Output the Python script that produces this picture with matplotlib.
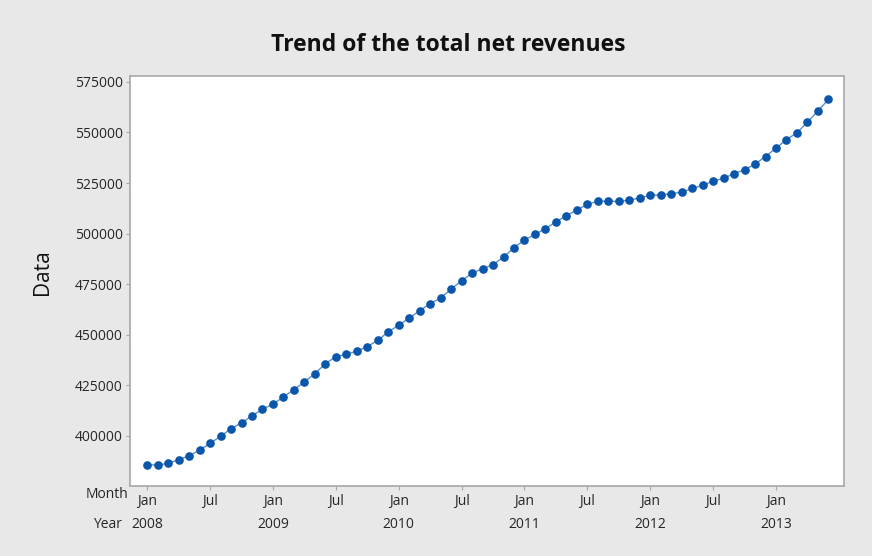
import matplotlib
matplotlib.use("Agg")
import matplotlib.pyplot as plt
import matplotlib.transforms as mtransforms

plt.rcParams['font.family'] = ['Open Sans', 'DejaVu Sans']

# monthly total net revenues, Jan 2008 .. Jun 2013
revenues = [385700, 385700, 386400, 388300, 390200, 393000, 396400, 399800, 403600, 406500,
            409900, 413300, 415700, 419300, 422900, 426700, 430800, 435700, 439200, 440400,
            441900, 444200, 447200, 451500, 454700, 458300, 461900, 465400, 468200, 472600,
            476700, 480500, 482600, 484700, 488300, 493100, 496800, 499600, 502400, 505800,
            508800, 511700, 514500, 516000, 516000, 515900, 516500, 517600, 519000, 519000,
            519800, 520400, 522300, 523900, 525900, 527300, 529600, 531600, 534300, 538100,
            542200, 546500, 549800, 555000, 560600, 566300]
month_ticks = [0, 6, 12, 18, 24, 30, 36, 42, 48, 54, 60]
month_labels = ["Jan", "Jul", "Jan", "Jul", "Jan", "Jul", "Jan", "Jul", "Jan", "Jul", "Jan"]
year_ticks = [0, 12, 24, 36, 48, 60]
year_labels = ["2008", "2009", "2010", "2011", "2012", "2013"]
y_ticks = [400000, 425000, 450000, 475000, 500000, 525000, 550000, 575000]

bg = "#e8e8e8"
txt = "#262626"

fig = plt.figure(figsize=(8.72, 5.56), dpi=100, facecolor=bg)
ax = fig.add_axes([0.149, 0.126, 0.819, 0.737])
ax.set_facecolor("white")

x = list(range(len(revenues)))
ax.plot(x, revenues, color="#5b8fd0", lw=1.0, zorder=2)
ax.plot(x, revenues, ls="none", marker="o", ms=5.2, color="#0a56ab", zorder=3)

ax.set_xlim(-1.65, 66.5)
ax.set_ylim(375300, 577800)

ax.set_yticks(y_ticks)
ax.set_yticklabels([str(v) for v in y_ticks])
ax.set_xticks(month_ticks)
ax.set_xticklabels(month_labels)

for s in ax.spines.values():
    s.set_color("#a8a8a8")
    s.set_linewidth(1.2)
ax.tick_params(axis="both", colors="#a8a8a8", length=3, width=0.8,
               labelcolor=txt, labelsize=10)
ax.tick_params(axis="x", pad=3)
ax.tick_params(axis="y", pad=2)

# year row under the month labels
trans = mtransforms.blended_transform_factory(ax.transData, ax.transAxes)
for xi, lab in zip(year_ticks, year_labels):
    ax.text(xi, -0.093, lab, transform=trans, ha="center", va="center",
            fontsize=10, color=txt)

fig.text(128 / 872, 1 - 495 / 556, "Month", ha="right", va="center", fontsize=10, color=txt)
fig.text(122 / 872, 1 - 524 / 556, "Year", ha="right", va="center", fontsize=10, color=txt)

fig.text(448 / 872, 1 - 45 / 556, "Trend of the total net revenues", ha="center", va="center",
         fontsize=16.5, fontweight="bold", color="#111111")
fig.text(42 / 872, 1 - 272 / 556, "Data", ha="center", va="center", rotation=90,
         fontsize=15, color="#111111")

fig.savefig("out.png", dpi=100, facecolor=bg)
